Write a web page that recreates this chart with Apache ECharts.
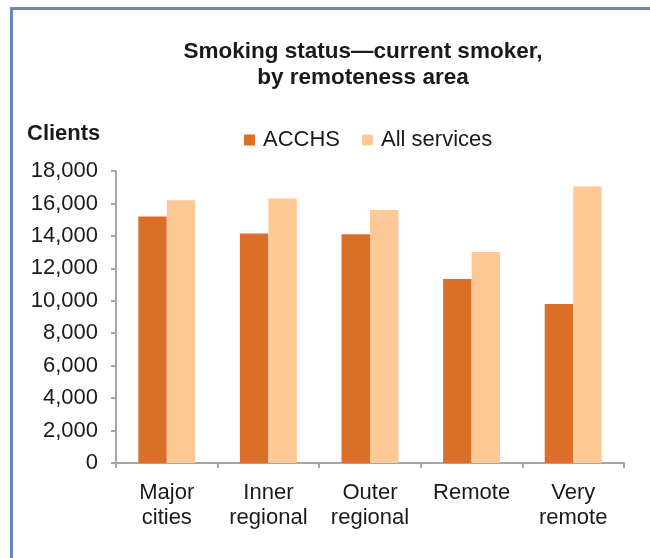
<!DOCTYPE html>
<html>
<head>
<meta charset="utf-8">
<script src="https://cdn.jsdelivr.net/npm/echarts@6/dist/echarts.min.js"></script>
<style>
html,body{margin:0;padding:0;background:#fff;}
#frame{position:absolute;left:10px;top:7px;width:640px;height:551px;border-left:3px solid #6A88AF;border-top:3px solid #6A88AF;box-sizing:border-box;}
#chart{position:absolute;left:0;top:0;width:650px;height:558px;}
</style>
</head>
<body>
<div id="frame"></div>
<div id="chart"></div>
<script>
var categories = ['Major\ncities', 'Inner\nregional', 'Outer\nregional', 'Remote', 'Very\nremote'];
var acchs = [15200, 14150, 14100, 11350, 9800];
var allServices = [16200, 16300, 15600, 13000, 17050];
var yTicks = [0, 2000, 4000, 6000, 8000, 10000, 12000, 14000, 16000, 18000];

var FONT = 'Liberation Sans, Arial, sans-serif';
var chart = echarts.init(document.getElementById('chart'), null, {renderer: 'canvas'});
chart.setOption({
  animation: false,
  backgroundColor: 'transparent',
  title: {
    text: 'Smoking status\u2014current smoker,\nby remoteness area',
    left: 358,
    top: 34,
    textAlign: 'center',
    textStyle: {fontFamily: FONT, fontSize: 22.5, fontWeight: 'bold', color: '#1a1a1a', lineHeight: 26}
  },
  legend: {
    left: 239,
    top: 124,
    itemWidth: 11,
    itemHeight: 11,
    itemGap: 22,
    icon: 'rect',
    textStyle: {fontFamily: FONT, fontSize: 22, color: '#1a1a1a', padding: [0, 0, 0, 3]},
    data: ['ACCHS', 'All services']
  },
  graphic: [{
    type: 'text',
    left: 27,
    top: 123,
    style: {text: 'Clients', font: 'bold 22px ' + FONT, fill: '#1a1a1a'}
  }],
  grid: {left: 116, right: 26, top: 171, bottom: 95, containLabel: false},
  xAxis: {
    type: 'category',
    data: categories,
    boundaryGap: true,
    axisLine: {lineStyle: {color: '#A6A6A6', width: 2}},
    axisTick: {show: true, alignWithLabel: false, length: 5, lineStyle: {color: '#A6A6A6', width: 2}},
    axisLabel: {fontFamily: FONT, fontSize: 22, color: '#1a1a1a', lineHeight: 25, margin: 17, interval: 0}
  },
  yAxis: {
    type: 'value',
    min: yTicks[0],
    max: yTicks[yTicks.length - 1],
    interval: yTicks[1] - yTicks[0],
    splitLine: {show: false},
    axisLine: {show: true, lineStyle: {color: '#A6A6A6', width: 2}},
    axisTick: {show: true, length: 5, lineStyle: {color: '#A6A6A6', width: 2}},
    axisLabel: {
      fontFamily: FONT, fontSize: 22, color: '#1a1a1a', margin: 18,
      formatter: function (v) { return v.toLocaleString('en-US'); }
    }
  },
  series: [
    {name: 'ACCHS', type: 'bar', data: acchs, barWidth: 28.5, barGap: '0%', itemStyle: {color: '#DC6F28'}},
    {name: 'All services', type: 'bar', data: allServices, barWidth: 28.5, barGap: '0%', itemStyle: {color: '#FDCA96'}}
  ]
});
</script>
</body>
</html>
